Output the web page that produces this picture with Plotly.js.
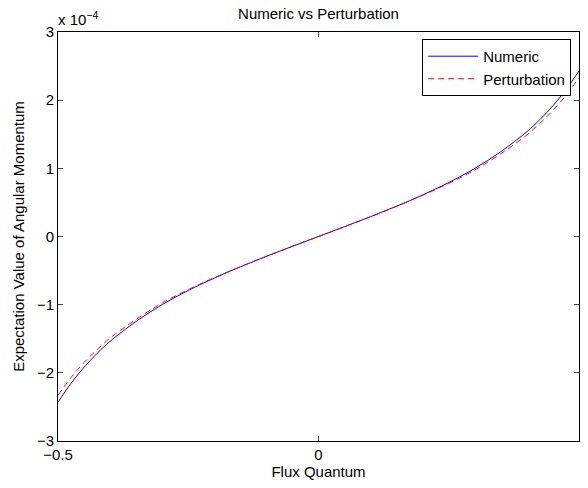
<!DOCTYPE html>
<html>
<head>
<meta charset="utf-8">
<script src="https://cdn.plot.ly/plotly-3.0.1.min.js"></script>
<style>html,body{margin:0;padding:0;background:#fff;}#chart{width:588px;height:488px;}</style>
</head>
<body>
<div id="chart"></div>
<script>
const fluxValues = [-0.5, -0.475, -0.45, -0.425, -0.4, -0.35, -0.3, -0.25, -0.2, -0.15, -0.1, -0.05, 0, 0.05, 0.1, 0.15, 0.2, 0.25, 0.3, 0.35, 0.4, 0.425, 0.45, 0.475, 0.5];
const numericValues = [-2.43, -2.154, -1.918, -1.715, -1.538, -1.245, -0.999, -0.791, -0.610, -0.445, -0.291, -0.144, 0, 0.144, 0.291, 0.445, 0.610, 0.791, 0.999, 1.245, 1.538, 1.715, 1.918, 2.154, 2.43];
const perturbationValues = [-2.33, -2.07, -1.85, -1.66, -1.49, -1.215, -0.975, -0.78, -0.605, -0.443, -0.29, -0.144, 0, 0.144, 0.29, 0.443, 0.605, 0.78, 0.975, 1.215, 1.49, 1.66, 1.85, 2.07, 2.33];
const scaleFactor = 1e-4;
const yTickValues = [-3, -2, -1, 0, 1, 2, 3];
const xTickValues = [-0.5, 0, 0.5];
const xTickLabels = ['\u22120.5', '0', '0.5'];
const yTickLabels = ['\u22123', '\u22122', '\u22121', '0', '1', '2', '3'];

const font = {family: 'Liberation Sans, Arial, sans-serif', size: 15, color: '#000'};
const traces = [
  {x: fluxValues, y: numericValues.map(v => v * scaleFactor), mode: 'lines', name: 'Numeric',
   line: {color: '#0000ff', width: 1, shape: 'spline', smoothing: 1}},
  {x: fluxValues, y: perturbationValues.map(v => v * scaleFactor), mode: 'lines', name: 'Perturbation',
   line: {color: '#ff0000', width: 1, dash: '6px,4px', shape: 'spline', smoothing: 1}}
];
const layout = {
  width: 588, height: 488,
  margin: {l: 58, r: 9, t: 32, b: 47},
  paper_bgcolor: '#fff', plot_bgcolor: '#fff',
  font: font,
  title: {text: 'Numeric vs Perturbation', font: {family: font.family, size: 15, color: '#000'}, x: 0.5, xanchor: 'center', xref: 'paper', y: 0.972, yanchor: 'middle'},
  xaxis: {range: [-0.5, 0.5], tickvals: xTickValues, ticktext: xTickLabels, ticks: 'inside', ticklen: 5,
          showline: true, linecolor: '#000', linewidth: 1, mirror: 'ticks', showgrid: false, zeroline: false,
          title: {text: 'Flux Quantum', font: {size: 15}, standoff: 4}, tickfont: {size: 15}},
  yaxis: {range: [-3e-4, 3e-4], tickvals: yTickValues.map(v => v * scaleFactor), ticktext: yTickLabels, ticks: 'inside', ticklen: 5,
          showline: true, linecolor: '#000', linewidth: 1, mirror: 'ticks', showgrid: false, zeroline: false,
          title: {text: 'Expectation Value of Angular Momentum', font: {size: 15}, standoff: 8}, tickfont: {size: 15}},
  legend: {x: 0.985, y: 0.983, xanchor: 'right', yanchor: 'top', bordercolor: '#000', borderwidth: 1,
           bgcolor: '#fff', font: {size: 15}, tracegroupgap: 0, itemwidth: 50},
  annotations: [{text: 'x 10<sup>\u22124</sup>', xref: 'paper', yref: 'paper', x: 0, y: 1, xanchor: 'left', yanchor: 'bottom',
                 showarrow: false, font: {size: 15}, yshift: 2, xshift: -2}]
};
Plotly.newPlot('chart', traces, layout, {staticPlot: true, displayModeBar: false});
</script>
</body>
</html>
